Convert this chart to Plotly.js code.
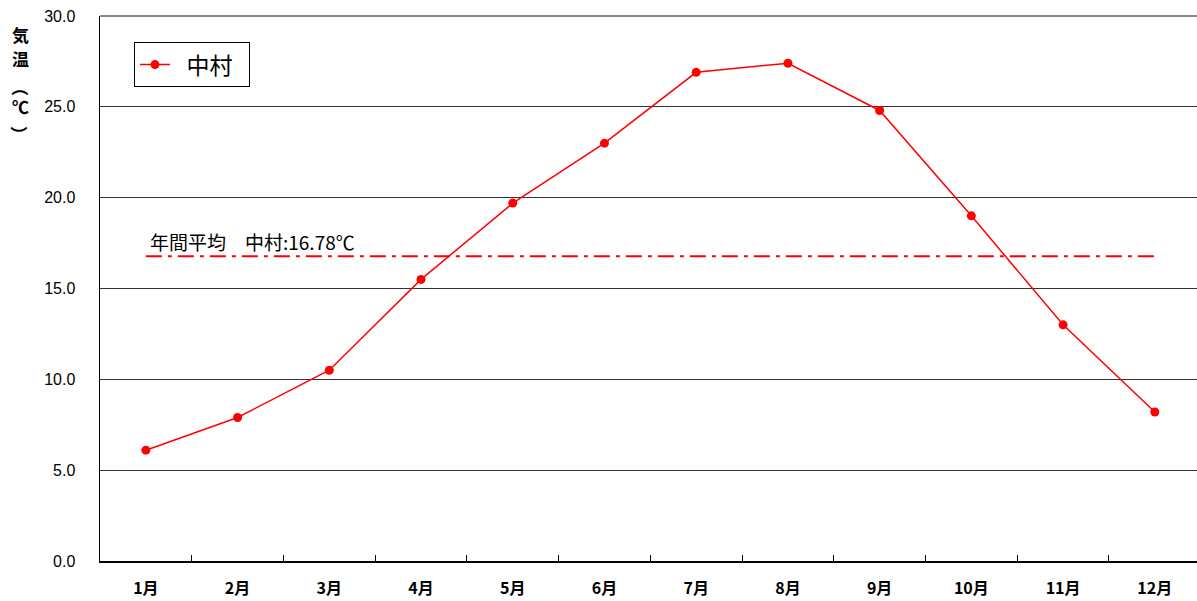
<!DOCTYPE html>
<html>
<head>
<meta charset="utf-8">
<script src="https://cdn.plot.ly/plotly-3.0.1.min.js"></script>
<style>html,body{margin:0;padding:0;background:#fff;}#chart{width:1197px;height:601px;}</style>
</head>
<body>
<div id="chart"></div>
<script>
const months = ["1月","2月","3月","4月","5月","6月","7月","8月","9月","10月","11月","12月"];
const nakamura = [6.1, 7.9, 10.5, 15.5, 19.7, 23.0, 26.9, 27.4, 24.8, 19.0, 13.0, 8.2];
const annualAvg = 16.78;
const seriesName = "中村";
const avgLabel = "年間平均\u3000中村:16.78℃";
const yTicks = [0, 5, 10, 15, 20, 25, 30];
const yTickLabels = ["0.0","5.0","10.0","15.0","20.0","25.0","30.0"];
const yTitleChars = ["気","温","（","℃","）"];

const traces = [
  {
    x: months, y: nakamura, type: "scatter", mode: "lines+markers",
    name: "\u2002" + seriesName + "\u2002",
    line: {color: "#ff0000", width: 1.5},
    marker: {color: "#ff0000", size: 9}
  },
  {
    x: [months[0], months[months.length-1]], y: [annualAvg, annualAvg],
    type: "scatter", mode: "lines", showlegend: false, hoverinfo: "skip",
    line: {color: "#ff0000", width: 2, dash: "16px,6px,4px,6px"}
  }
];

const titleY = [35, 59, 87, 107, 134];
const titleAnn = yTitleChars.map((ch, i) => ({
  xref: "paper", yref: "paper", x: 0, y: (561 - titleY[i]) / 545,
  xanchor: "center", yanchor: "middle", xshift: -80,
  text: ch, showarrow: false,
  textangle: (ch === "（" || ch === "）") ? 90 : 0,
  font: {family: "Noto Sans CJK JP", size: 17, color: "#000", weight: "bold"}
}));

const layout = {
  width: 1197, height: 601,
  margin: {l: 100, r: 0, t: 16, b: 40, pad: 0},
  paper_bgcolor: "#fff", plot_bgcolor: "#fff",
  showlegend: true,
  legend: {
    x: 0.031, y: 0.952, xanchor: "left", yanchor: "top",
    bordercolor: "#000", borderwidth: 1, bgcolor: "#fff",
    font: {family: "Noto Sans CJK JP", size: 23, color: "#000"},
    tracegroupgap: 0
  },
  xaxis: {
    type: "category", categoryorder: "array", categoryarray: months,
    range: [-0.5, 11.46],
    tickson: "boundaries", ticks: "inside", ticklen: 6, tickcolor: "#000", tickwidth: 1,
    showline: true, linecolor: "#000", linewidth: 1.5,
    showgrid: false, zeroline: false,
    tickfont: {family: "Noto Sans CJK JP", size: 16, color: "#000", weight: "bold"},
    ticklabelstandoff: 12
  },
  yaxis: {
    range: [0, 30], tickvals: yTicks, ticktext: yTickLabels,
    ticks: "", showline: true, linecolor: "#000", linewidth: 1.5,
    showgrid: true, gridcolor: "#333", gridwidth: 1, zeroline: false,
    tickfont: {family: "Liberation Sans", size: 16, color: "#000"},
    ticklabelstandoff: 20
  },
  shapes: [
    {type: "line", xref: "paper", yref: "paper", x0: 0, x1: 1, y0: 1, y1: 1,
     line: {color: "#888", width: 2}}
  ],
  annotations: [
    {
      xref: "x", yref: "y", x: months[0], y: annualAvg, xanchor: "left", yanchor: "bottom",
      xshift: 2, yshift: -1,
      text: avgLabel, showarrow: false,
      font: {family: "Noto Sans CJK JP", size: 19, color: "#000"}
    }
  ].concat(titleAnn)
};

Plotly.newPlot("chart", traces, layout, {displayModeBar: false, staticPlot: true});
</script>
</body>
</html>
